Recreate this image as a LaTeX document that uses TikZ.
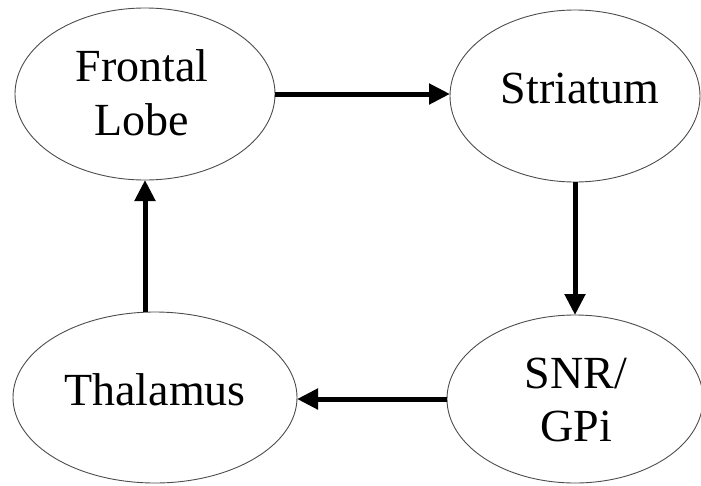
\documentclass[tikz,border=0pt]{standalone}
\usepackage{fontspec}
\setmainfont{Liberation Serif}
\usetikzlibrary{shapes.geometric,arrows.meta}
\begin{document}
\begin{tikzpicture}[x=1pt,y=-1pt,
  region/.style={ellipse,draw=black!70,line width=0.9pt,inner sep=0pt,outer sep=0pt},
  lbl/.style={align=center,inner sep=0pt,font=\fontsize{46}{53.5}\selectfont},
  flow/.style={line width=5pt,-{Triangle[length=21pt,width=20pt]}}]
  \useasboundingbox (0,0) rectangle (701,485);
  % the four regions of the loop
  \node[region,minimum width=260pt,minimum height=172pt] (fl) at (145,94) {};
  \node[region,minimum width=250pt,minimum height=172pt] (st) at (575,96) {};
  \node[region,minimum width=256pt,minimum height=168pt] (snr) at (575,399) {};
  \node[region,minimum width=284pt,minimum height=171pt] (th) at (155,397.5) {};
  % their names
  \node[lbl] (tfl) at (142,93) {Frontal\\Lobe};
  \node[lbl] (tst) at (580,88) {Striatum};
  \node[lbl] (tsnr) at (576,400) {SNR/\\GPi};
  \node[lbl] (tth) at (155,390) {Thalamus};
  % connections around the loop
  \draw[flow] (fl.east) -- (fl.east -| st.west);
  \draw[flow] (st.south) -- (st.south |- snr.north);
  \draw[flow] (snr.west) -- (snr.west -| th.east);
  \draw[flow] (fl.south |- th.north) -- (fl.south);
\end{tikzpicture}
\end{document}
